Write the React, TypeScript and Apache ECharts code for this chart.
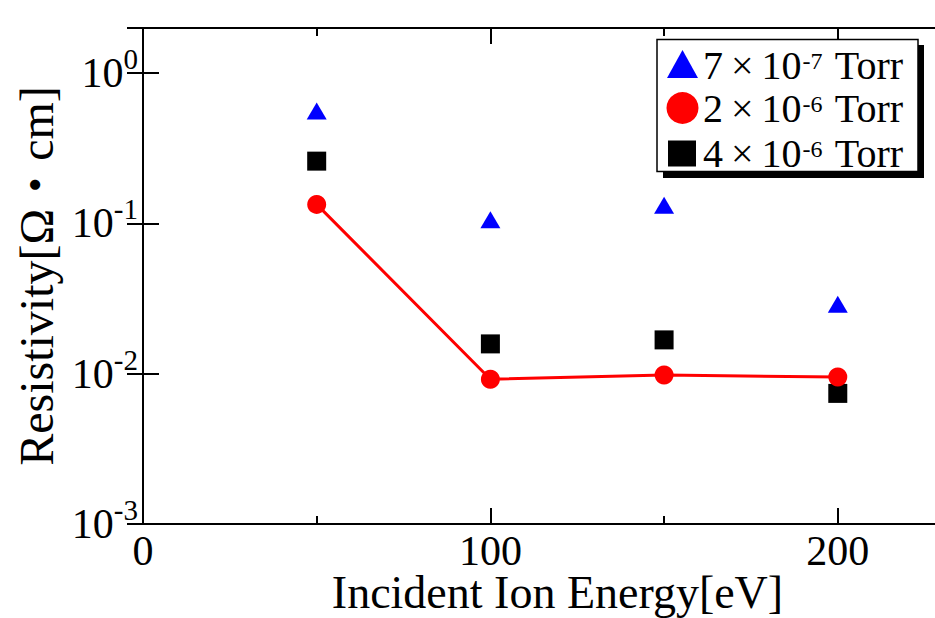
import React, { useEffect, useRef } from "react";
import * as echarts from "echarts";

// ---- data ----
const energies = [50, 100, 150, 200];
const res7e7 = [0.56, 0.106, 0.132, 0.029];
const res2e6 = [0.134, 0.0092, 0.0098, 0.0095];
const res4e6 = [0.26, 0.0158, 0.0168, 0.0074];
const seriesNames = ["7×10-7 Torr", "2×10-6 Torr", "4×10-6 Torr"];
const legendMantissa = ["7", "2", "4"];
const legendExp = ["-7", "-6", "-6"];
const xTitle = "Incident Ion Energy[eV]";
const yTitle = "Resistivity[Ω・cm]";

const FONT = '"Liberation Serif", "Times New Roman", "Noto Sans CJK JP", serif';

export default function App() {
  const ref = useRef<HTMLDivElement>(null);
  useEffect(() => {
    document.body.style.margin = "0";
    const chart = echarts.init(ref.current!, null, { renderer: "svg" });
    const axisLine = { show: true, lineStyle: { color: "#000", width: 2 } };
    const majorTick = { show: true, inside: true, length: 16, lineStyle: { color: "#000", width: 2 } };
    const minorTickStyle = { show: true, inside: true, length: 8, lineStyle: { color: "#000", width: 2 } };
    const xBase = { type: "value", min: 0, max: 230, splitLine: { show: false } };
    const rowY = [65.5, 108.5, 153.5];
    const legendText = (i: number) => ({
      type: "text",
      x: 703,
      y: rowY[i],
      style: {
        text: `${legendMantissa[i]}{x|×}10{s|${legendExp[i]}} Torr`,
        fontFamily: FONT,
        fontSize: 40,
        fill: "#000",
        verticalAlign: "middle",
        rich: {
          x: { fontFamily: FONT, fontSize: 40, padding: [0, 8, 0, 8] },
          s: { fontFamily: FONT, fontSize: 24, padding: [0, 3, 10, 1] },
        },
      },
    });
    const option: any = {
      animation: false,
      grid: { left: 143, top: 28, right: -7, bottom: 94, outerBoundsMode: "none", containLabel: false },
      xAxis: [
        {
          ...xBase,
          interval: 100,
          position: "bottom",
          axisLine,
          axisTick: majorTick,
          axisLabel: { fontFamily: FONT, fontSize: 42, color: "#000", margin: 6, showMaxLabel: false },
          name: xTitle,
          nameLocation: "middle",
          nameGap: 45,
          nameMoveOverlap: false,
          nameTextStyle: { fontFamily: FONT, fontSize: 46, color: "#000", padding: [0, 0, 0, 30] },
        },
        {
          ...xBase,
          interval: 50,
          position: "bottom",
          axisLine: { show: false },
          axisTick: minorTickStyle,
          axisLabel: { show: false },
        },
        {
          ...xBase,
          interval: 100,
          position: "top",
          axisLine,
          axisTick: majorTick,
          axisLabel: { show: false },
        },
        {
          ...xBase,
          interval: 50,
          position: "top",
          axisLine: { show: false },
          axisTick: minorTickStyle,
          axisLabel: { show: false },
        },
      ],
      yAxis: [
        {
          type: "log",
          logBase: 10,
          min: 0.001,
          max: 2,
          position: "left",
          axisLine,
          axisTick: majorTick,
          splitLine: { show: false },
          axisLabel: {
            color: "#000",
            fontFamily: FONT,
            fontSize: 42,
            margin: 5,
            showMaxLabel: false,
            formatter: (v: number) => `10{s|${Math.round(Math.log10(v))}}`,
            rich: { s: { fontFamily: FONT, fontSize: 29, color: "#000", padding: [0, 0, 28, 0] } },
          },
          name: yTitle,
          nameLocation: "middle",
          nameGap: 81,
          nameTextStyle: { fontFamily: FONT, fontSize: 48, color: "#000" },
        },
        {
          type: "log",
          logBase: 10,
          min: 0.001,
          max: 2,
          position: "right",
          axisLine,
          axisTick: majorTick,
          splitLine: { show: false },
          axisLabel: { show: false },
        },
      ],
      series: [
        {
          name: seriesNames[0],
          type: "scatter",
          symbol: "triangle",
          symbolSize: [20, 17],
          itemStyle: { color: "#0000ff", opacity: 1 },
          data: energies.map((e, i) => [e, res7e7[i]]),
        },
        {
          name: seriesNames[1],
          type: "line",
          symbol: "circle",
          symbolSize: 19,
          showSymbol: true,
          lineStyle: { color: "#ff0000", width: 3 },
          itemStyle: { color: "#ff0000", opacity: 1 },
          data: energies.map((e, i) => [e, res2e6[i]]),
        },
        {
          name: seriesNames[2],
          type: "scatter",
          symbol: "rect",
          symbolSize: 19,
          itemStyle: { color: "#000000", opacity: 1 },
          data: energies.map((e, i) => [e, res4e6[i]]),
        },
      ],
      graphic: [
        { type: "rect", shape: { x: 663, y: 45, width: 261, height: 133 }, style: { fill: "#000" }, z: 100 },
        {
          type: "rect",
          shape: { x: 657, y: 39.5, width: 261, height: 132 },
          style: { fill: "#fff", stroke: "#000", lineWidth: 1.5 },
          z: 101,
        },
        {
          type: "polygon",
          shape: { points: [[667, 78], [682.5, 50], [698, 78]] },
          style: { fill: "#0000ff" },
          z: 102,
        },
        { type: "circle", shape: { cx: 682.5, cy: 108, r: 16 }, style: { fill: "#ff0000" }, z: 102 },
        { type: "rect", shape: { x: 668, y: 140.5, width: 28, height: 26 }, style: { fill: "#000" }, z: 102 },
        { ...legendText(0), z: 102 },
        { ...legendText(1), z: 102 },
        { ...legendText(2), z: 102 },
      ],
    };
    chart.setOption(option);
    return () => chart.dispose();
  }, []);
  return <div ref={ref} style={{ width: 935, height: 618 }} />;
}
